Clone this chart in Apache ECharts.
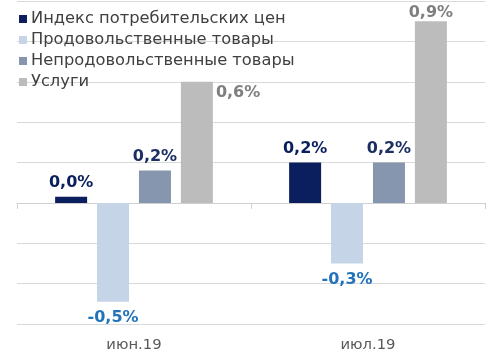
<!DOCTYPE html>
<html><head><meta charset="utf-8">
<script src="https://cdn.jsdelivr.net/npm/echarts@6/dist/echarts.min.js"></script>
<style>html,body{margin:0;padding:0;background:#fff}#c{width:491px;height:355px}</style>
</head><body><div id="c"></div>
<script>
const categories = ['июн.19', 'июл.19'];
const seriesNames = ['Индекс потребительских цен', 'Продовольственные товары', 'Непродовольственные товары', 'Услуги'];
const cpi = [0.03, 0.2];
const food = [-0.49, -0.3];
const nonFood = [0.16, 0.2];
const services = [0.6, 0.9];
const yTicks = {min: -0.6, max: 1.0, interval: 0.2};

const colors = ['#0b1f5e', '#c5d5e7', '#8596ae', '#bcbcbc'];
const labelColors = ['#0b1f5e', '#2373bb', '#1c2f63', '#7f7f7f'];
const fmt = p => p.value.toFixed(1).replace('.', ',') + '%';
const font = 'DejaVu Sans, Verdana, sans-serif';

function mk(i, data, pos, dist) {
  return {
    name: seriesNames[i], type: 'bar', data: data, barWidth: 32, barGap: '31%',
    itemStyle: {color: colors[i]},
    label: {show: true, position: pos, distance: dist, formatter: fmt,
      color: labelColors[i], fontFamily: font, fontWeight: 'bold', fontSize: 16}
  };
}
const sServices = mk(3, services, 'top', 0);
sServices.data = [
  {value: services[0], label: {position: 'right', distance: 3, offset: [0, -49]}},
  {value: services[1]}
];

const chart = echarts.init(document.getElementById('c'));
chart.setOption({
  animation: false,
  grid: {left: 17, right: 6, top: 1, bottom: 31},
  legend: {
    orient: 'vertical', left: 14, top: 6, itemWidth: 8, itemHeight: 8, itemGap: 5,
    icon: 'rect', data: seriesNames,
    textStyle: {fontFamily: font, fontSize: 16.3, color: '#404040', padding: [0,0,0,-1]}
  },
  xAxis: [
    {type: 'category', data: categories, axisLine: {onZero: true, lineStyle: {color: '#d0d0d0'}},
     axisTick: {show: true, length: 6, lineStyle: {color: '#d0d0d0'}}, axisLabel: {show: false}},
    {type: 'category', data: categories, position: 'bottom', axisLine: {show: false, onZero: false},
     axisTick: {show: false}, axisLabel: {show: true, margin: 14, color: '#595959', fontFamily: font, fontSize: 14.8}}
  ],
  yAxis: {type: 'value', min: yTicks.min, max: yTicks.max, interval: yTicks.interval,
    axisLabel: {show: false}, axisLine: {show: false}, axisTick: {show: false},
    splitLine: {lineStyle: {color: '#d9d9d9', width: 1}}},
  series: [mk(0, cpi, 'top', 6), mk(1, food, 'bottom', 8), mk(2, nonFood, 'top', 6), sServices]
});
</script></body></html>
